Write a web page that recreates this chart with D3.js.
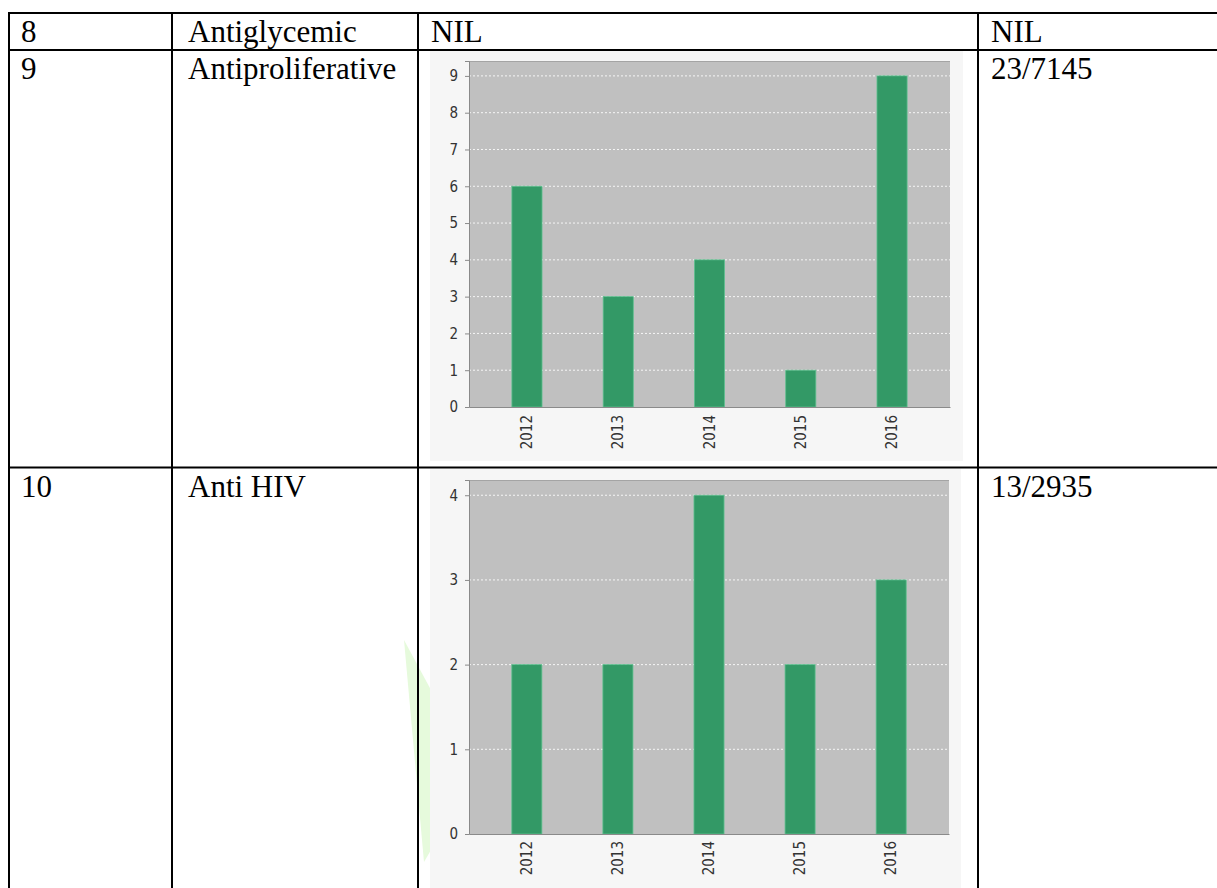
<!DOCTYPE html>
<html>
<head>
<meta charset="utf-8">
<script src="https://cdn.jsdelivr.net/npm/d3@7"></script>
<style>
  body { margin: 0; background: #ffffff; }
  svg { display: block; }
</style>
</head>
<body>
<svg id="page" width="1217" height="888"></svg>
<script>
// ---- table content ----
const rowNumbers = ["8", "9", "10"];
const activityNames = ["Antiglycemic", "Antiproliferative", "Anti HIV"];
const ratioLabels = ["NIL", "23/7145", "13/2935"];
const row8ChartText = "NIL";

// ---- chart data (publications per year) ----
const years = ["2012", "2013", "2014", "2015", "2016"];
const antiproliferativeCounts = [6, 3, 4, 1, 9];
const antiHivCounts = [2, 2, 4, 2, 3];
const antiproliferativeTicks = [0, 1, 2, 3, 4, 5, 6, 7, 8, 9];
const antiHivTicks = [0, 1, 2, 3, 4];

const svg = d3.select("#page");

// ---- table grid ----
const colX = [9, 172, 418, 978];
const rowY = [13, 50, 467.5];
const bottomY = 888;
const serif = "'Liberation Serif', 'Times New Roman', serif";

// pale watermark wedge beside the lower chart
svg.append("path")
  .attr("d", "M404,640 L431,690 L431,850 L424,862 Z")
  .attr("fill", "#e6fadc");

// chart panels first, grid lines drawn over them
const charts = svg.append("g");

const grid = svg.append("g").attr("stroke", "#000").attr("stroke-width", 2);
rowY.forEach(y => {
  grid.append("line").attr("x1", colX[0] - 1).attr("x2", 1217).attr("y1", y).attr("y2", y);
});
colX.forEach(x => {
  grid.append("line").attr("x1", x).attr("x2", x).attr("y1", rowY[0] - 1).attr("y2", bottomY);
});

const text = svg.append("g").attr("font-family", serif).attr("font-size", 31).attr("fill", "#000");
const baselineOffset = 29;
rowNumbers.forEach((t, i) => {
  text.append("text").attr("x", 21).attr("y", rowY[i] + baselineOffset).text(t);
});
activityNames.forEach((t, i) => {
  text.append("text").attr("x", 188).attr("y", rowY[i] + baselineOffset).text(t);
});
ratioLabels.forEach((t, i) => {
  text.append("text").attr("x", 991).attr("y", rowY[i] + baselineOffset).text(t);
});
text.append("text").attr("x", 431).attr("y", rowY[0] + baselineOffset).text(row8ChartText);

// ---- bar chart drawer ----
const chartFont = "'DejaVu Sans Condensed', 'DejaVu Sans', sans-serif";
const chartFontSize = 15;
const upperMargin = 0.045;

function drawBarChart(cfg) {
  const g = charts.append("g");
  // chart background
  g.append("rect")
    .attr("x", cfg.panel.x).attr("y", cfg.panel.y)
    .attr("width", cfg.panel.w).attr("height", cfg.panel.h)
    .attr("fill", "#f6f6f6");

  const p = cfg.plot;
  const x = d3.scaleBand()
    .domain(years)
    .range([p.left, p.right])
    .paddingInner(0.67)
    .paddingOuter(0.47);
  const y = d3.scaleLinear()
    .domain([0, d3.max(cfg.ticks) * (1 + upperMargin)])
    .range([p.bottom, p.top]);

  // plot area
  g.append("rect")
    .attr("x", p.left).attr("y", p.top)
    .attr("width", p.right - p.left).attr("height", p.bottom - p.top)
    .attr("fill", "#c0c0c0");
  g.append("line")
    .attr("x1", p.left).attr("x2", p.right)
    .attr("y1", p.top + 0.5).attr("y2", p.top + 0.5)
    .attr("stroke", "#a4a4a4").attr("stroke-width", 1);

  // horizontal grid lines
  g.append("g").selectAll("line")
    .data(cfg.ticks.filter(t => t > 0))
    .join("line")
    .attr("x1", p.left).attr("x2", p.right)
    .attr("y1", d => y(d)).attr("y2", d => y(d))
    .attr("stroke", "#ffffff").attr("stroke-opacity", 0.85)
    .attr("stroke-width", 1)
    .attr("stroke-dasharray", "2,2");

  // bars
  g.append("g").selectAll("rect")
    .data(years.map((yr, i) => ({ yr, v: cfg.values[i] })))
    .join("rect")
    .attr("x", d => x(d.yr))
    .attr("width", x.bandwidth())
    .attr("y", d => y(d.v))
    .attr("height", d => y(0) - y(d.v))
    .attr("fill", "#339966")
    .attr("stroke", "#5fc08f")
    .attr("stroke-width", 0.8);

  // y axis
  const yAxis = g.append("g")
    .attr("transform", `translate(${p.left},0)`)
    .call(d3.axisLeft(y).tickValues(cfg.ticks).tickFormat(d3.format("d")).tickSize(4).tickPadding(7));
  yAxis.select(".domain").attr("stroke", "#8a8a8a");
  yAxis.selectAll(".tick line").attr("stroke", "#8a8a8a");
  yAxis.selectAll("text")
    .attr("font-family", chartFont).attr("font-size", chartFontSize).attr("fill", "#333");

  // x axis
  const xAxis = g.append("g")
    .attr("transform", `translate(0,${p.bottom})`)
    .call(d3.axisBottom(x).tickSize(0).tickPadding(0));
  xAxis.select(".domain").attr("stroke", "#8a8a8a");
  xAxis.selectAll("text")
    .attr("font-family", chartFont).attr("font-size", chartFontSize).attr("fill", "#333")
    .attr("transform", "rotate(-90)")
    .attr("text-anchor", "end")
    .attr("x", -cfg.labelGap).attr("y", 0).attr("dy", "0.35em");
}

drawBarChart({
  panel: { x: 430, y: 51, w: 533, h: 410 },
  plot: { left: 469, right: 950, top: 61, bottom: 407 },
  values: antiproliferativeCounts,
  ticks: antiproliferativeTicks,
  labelGap: 8
});

drawBarChart({
  panel: { x: 430, y: 468.5, w: 531, h: 420 },
  plot: { left: 469, right: 949, top: 480, bottom: 834 },
  values: antiHivCounts,
  ticks: antiHivTicks,
  labelGap: 7
});
</script>
</body>
</html>
